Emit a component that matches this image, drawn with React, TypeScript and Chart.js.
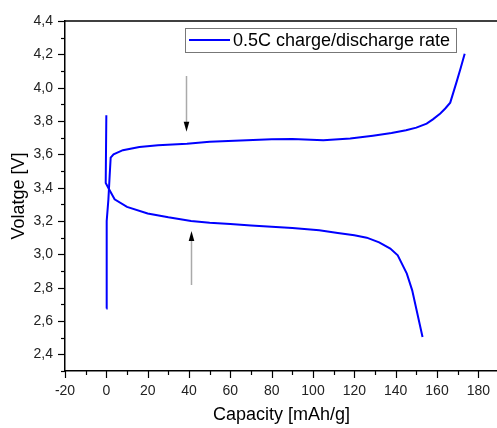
import React, { useEffect, useRef } from "react";
import { Chart, registerables } from "chart.js";

Chart.register(...registerables);

// ---- data ----
const chargeCapacity = [0, 0.05, 0.3, 1.0, 1.6, 2.1, 3.5, 8, 16, 25, 39, 50, 65, 80, 90, 105, 118, 129, 138, 145, 150, 155, 158, 161.6, 164, 166.4, 168, 169.7, 171.5, 173.4];
const chargeVoltage = [2.675, 2.95, 3.2, 3.33, 3.47, 3.58, 3.6, 3.625, 3.644, 3.655, 3.664, 3.675, 3.683, 3.69, 3.692, 3.684, 3.695, 3.712, 3.728, 3.744, 3.76, 3.784, 3.81, 3.845, 3.875, 3.91, 3.975, 4.044, 4.12, 4.204];

const dischargeCapacity = [0, -0.3, 1, 2, 4, 10, 20, 30, 41, 50, 60, 70, 80, 90, 103, 112, 120, 126, 132, 137.4, 141, 145.4, 148, 153];
const dischargeVoltage = [3.834, 3.428, 3.398, 3.375, 3.33, 3.285, 3.245, 3.222, 3.2, 3.19, 3.182, 3.173, 3.166, 3.158, 3.144, 3.128, 3.114, 3.1, 3.072, 3.035, 2.994, 2.884, 2.784, 2.504];

const xTicks = [-20, 0, 20, 40, 60, 80, 100, 120, 140, 160, 180];
const yTicks = [2.4, 2.6, 2.8, 3.0, 3.2, 3.4, 3.6, 3.8, 4.0, 4.2, 4.4];

const legendLabel = "0.5C charge/discharge rate";
const xTitle = "Capacity [mAh/g]";
const yTitle = "Volatge [V]";

// arrows: [x, yStart, yTip]
const arrowDown = [38.4, 4.07, 3.736];
const arrowUp = [40.8, 2.816, 3.14];

const FONT = "Arial, 'Liberation Sans', sans-serif";
const BLUE = "rgb(0,0,255)";

const decor = {
  id: "decor",
  afterDraw(chart: any) {
    const ctx = chart.ctx;
    const ca = chart.chartArea;
    const xs = chart.scales.x;
    const ys = chart.scales.y;
    ctx.save();
    // top border
    ctx.strokeStyle = "#000";
    ctx.lineWidth = 1.5;
    ctx.beginPath();
    ctx.moveTo(ca.left, ca.top);
    ctx.lineTo(ca.right + 20, ca.top);
    ctx.stroke();

    // ticks
    ctx.lineWidth = 1.2;
    for (let v = -20; v <= 190; v += 10) {
      const px = Math.round(xs.getPixelForValue(v)) + 0.5;
      const major = v % 20 === 0;
      ctx.beginPath();
      ctx.moveTo(px, ca.bottom);
      ctx.lineTo(px, ca.bottom + (major ? 7 : 4));
      ctx.stroke();
    }
    for (let i = 23; i <= 44; i++) {
      const v = i / 10;
      const py = Math.round(ys.getPixelForValue(v)) + 0.5;
      const major = i % 2 === 0;
      ctx.beginPath();
      ctx.moveTo(ca.left, py);
      ctx.lineTo(ca.left - (major ? 7 : 4), py);
      ctx.stroke();
    }

    // axis titles
    ctx.fillStyle = "#000";
    ctx.font = `18px ${FONT}`;
    ctx.textAlign = "center";
    ctx.textBaseline = "alphabetic";
    ctx.fillText(xTitle, (ca.left + 498) / 2, 420);
    ctx.save();
    ctx.translate(24, (ca.top + ca.bottom) / 2);
    ctx.rotate(-Math.PI / 2);
    ctx.fillText(yTitle, 0, 0);
    ctx.restore();

    // legend
    ctx.fillStyle = "#fff";
    ctx.fillRect(185, 28, 271, 24);
    ctx.strokeStyle = "#777";
    ctx.lineWidth = 1;
    ctx.strokeRect(185.5, 28.5, 271, 24);
    ctx.strokeStyle = BLUE;
    ctx.lineWidth = 2;
    ctx.beginPath();
    ctx.moveTo(189, 40);
    ctx.lineTo(230, 40);
    ctx.stroke();
    ctx.fillStyle = "#000";
    ctx.font = `18px ${FONT}`;
    ctx.textAlign = "left";
    ctx.textBaseline = "middle";
    ctx.fillText(legendLabel, 233, 41);

    // arrows
    const drawArrow = (a: number[]) => {
      const x = Math.round(xs.getPixelForValue(a[0])) + 0.5;
      const y0 = ys.getPixelForValue(a[1]);
      const y1 = ys.getPixelForValue(a[2]);
      const dir = y1 > y0 ? 1 : -1;
      ctx.strokeStyle = "#aaa";
      ctx.lineWidth = 1.5;
      ctx.beginPath();
      ctx.moveTo(x, y0);
      ctx.lineTo(x, y1 - dir * 8);
      ctx.stroke();
      ctx.fillStyle = "#000";
      ctx.beginPath();
      ctx.moveTo(x, y1);
      ctx.lineTo(x - 2.8, y1 - dir * 10);
      ctx.lineTo(x + 2.8, y1 - dir * 10);
      ctx.closePath();
      ctx.fill();
    };
    drawArrow(arrowDown);
    drawArrow(arrowUp);
    ctx.restore();
  },
};

export default function App() {
  const ref = useRef<HTMLCanvasElement>(null);
  useEffect(() => {
    const canvas = ref.current!;
    const chart = new Chart(canvas, {
      type: "scatter",
      data: {
        datasets: [
          {
            label: legendLabel,
            data: chargeCapacity.map((x, i) => ({ x, y: chargeVoltage[i] })),
            showLine: true,
            borderColor: BLUE,
            backgroundColor: BLUE,
            borderWidth: 2,
            pointRadius: 0,
            tension: 0,
          },
          {
            label: "discharge",
            data: dischargeCapacity.map((x, i) => ({ x, y: dischargeVoltage[i] })),
            showLine: true,
            borderColor: BLUE,
            backgroundColor: BLUE,
            borderWidth: 2,
            pointRadius: 0,
            tension: 0,
          },
        ],
      },
      options: {
        responsive: false,
        animation: false,
        devicePixelRatio: 1,
        layout: { padding: { top: 21, right: 11, left: 0, bottom: 0 } },
        plugins: { legend: { display: false }, tooltip: { enabled: false } },
        scales: {
          x: {
            type: "linear",
            min: -20,
            max: 190,
            grid: { display: false },
            border: { display: true, color: "#000", width: 1.5 },
            afterBuildTicks: (s: any) => { s.ticks = xTicks.map((v) => ({ value: v })); },
            afterFit: (s: any) => { s.height = 57; },
            ticks: {
              color: "#222",
              font: { family: FONT, size: 14 },
              padding: 4,
              maxRotation: 0,
              autoSkip: false,
              callback: (v: any) => String(v),
            },
          },
          y: {
            type: "linear",
            min: 2.3,
            max: 4.4,
            grid: { display: false },
            border: { display: true, color: "#000", width: 1.5 },
            afterBuildTicks: (s: any) => { s.ticks = yTicks.map((v) => ({ value: v })); },
            afterFit: (s: any) => { s.width = 65; },
            ticks: {
              color: "#222",
              font: { family: FONT, size: 14 },
              padding: 4,
              autoSkip: false,
              callback: (v: any) => Number(v).toFixed(1).replace(".", ","),
            },
          },
        },
      },
      plugins: [decor],
    } as any);
    return () => chart.destroy();
  }, []);
  return (
    <div style={{ position: "fixed", left: 0, top: 0, width: 497, height: 428, overflow: "hidden", background: "#fff" }}>
      <canvas ref={ref} width={510} height={428} style={{ display: "block", width: 510, height: 428 }} />
    </div>
  );
}
